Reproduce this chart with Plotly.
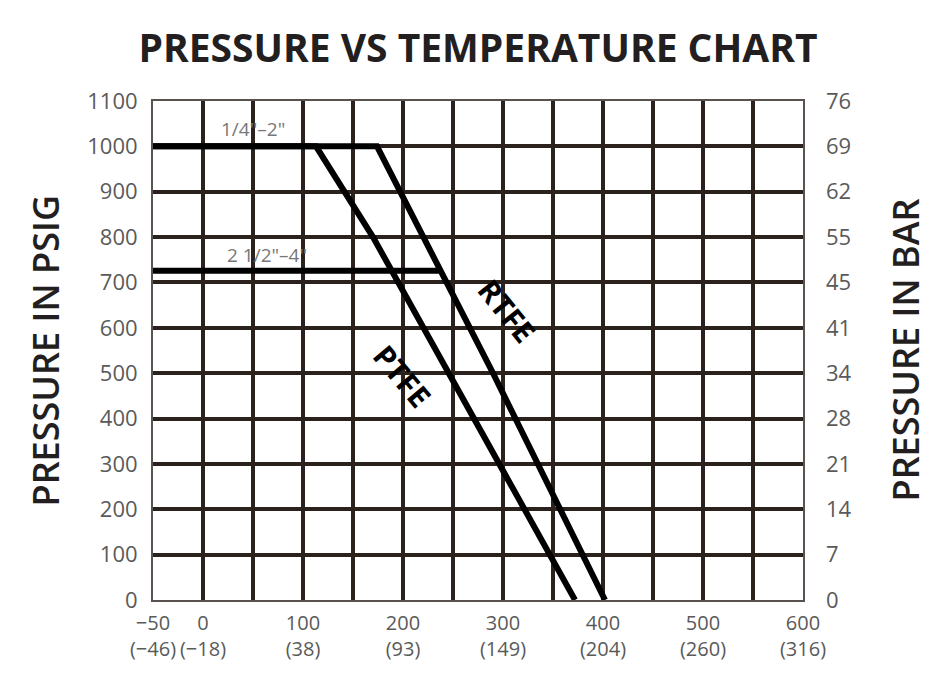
import plotly.graph_objects as go

# Temperature axis ticks (°F with °C in brackets)
temp_f_ticks = [-50, 0, 100, 200, 300, 400, 500, 600]
temp_c_ticks = ["−46", "−18", "38", "93", "149", "204", "260", "316"]

# Pressure axis ticks (psig) and bar equivalents
psi_ticks = [0, 100, 200, 300, 400, 500, 600, 700, 800, 900, 1000, 1100]
bar_ticks = ["0", "7", "14", "21", "28", "34", "41", "45", "55", "62", "69", "76"]

# PTFE rating curve
ptfe_temp = [-50, 113, 170, 372]
ptfe_psi = [1000, 1000, 800, 0]

# RTFE rating curve
rtfe_temp = [-50, 174, 290, 402]
rtfe_psi = [1000, 1000, 500, 0]

# 2 1/2"-4" rating line
big_temp = [-50, 236]
big_psi = [726, 726]

GRID = "#2b221e"
TICK = "#5a5a5a"
DARK = "#231f20"
FONT = "Open Sans"

fig = go.Figure()
for xs, ys in [(ptfe_temp, ptfe_psi), (rtfe_temp, rtfe_psi), (big_temp, big_psi)]:
    fig.add_trace(go.Scatter(x=xs, y=ys, mode="lines",
                             line=dict(color="black", width=6), showlegend=False,
                             hoverinfo="skip"))
# invisible trace to anchor the bar axis
fig.add_trace(go.Scatter(x=[-50], y=[0], yaxis="y2", mode="markers",
                         marker=dict(opacity=0), showlegend=False, hoverinfo="skip"))

ticktext = [f"{f}<br>({c})".replace("-50", "−50") for f, c in zip(temp_f_ticks, temp_c_ticks)]

fig.update_layout(
    width=934, height=679,
    paper_bgcolor="white", plot_bgcolor="white",
    margin=dict(l=145, r=139, t=93, b=87, autoexpand=False),
    title=dict(text="<b>PRESSURE VS TEMPERATURE CHART</b>", x=0.5, xref="paper",
               y=1 - 40 / 679, yref="container", yanchor="middle", xanchor="center",
               font=dict(family=FONT, size=39, color=DARK)),
    xaxis=dict(range=[-50, 600], tickvals=temp_f_ticks, ticktext=ticktext,
               showgrid=True, gridcolor=GRID, gridwidth=3.5, zeroline=False,
               minor=dict(dtick=50, tick0=0, showgrid=True, gridcolor=GRID, gridwidth=3.5),
               showline=True, linecolor="#5a524e", linewidth=2, mirror=True,
               ticks="", ticklabelstandoff=4, tickangle=0,
               tickfont=dict(family=FONT, size=20, color=TICK)),
    yaxis=dict(range=[0, 1100], tickvals=psi_ticks, ticktext=[str(v) for v in psi_ticks],
               showgrid=True, gridcolor=GRID, gridwidth=3.5, zeroline=False,
               showline=True, linecolor="#5a524e", linewidth=2, mirror=True,
               ticks="", ticklabelstandoff=9,
               tickfont=dict(family=FONT, size=22, color=TICK)),
    yaxis2=dict(range=[0, 1100], overlaying="y", side="right", tickvals=psi_ticks,
                ticktext=bar_ticks, showgrid=False, zeroline=False, ticklabelstandoff=22,
                tickfont=dict(family=FONT, size=22, color=TICK)),
    annotations=[
        dict(text="PRESSURE IN PSIG", xref="paper", yref="paper", x=0, y=0.5,
             xshift=-108, textangle=-90, showarrow=False, xanchor="center", yanchor="middle",
             font=dict(family=FONT, size=36, color=DARK, weight=600)),
        dict(text="PRESSURE IN BAR", xref="paper", yref="paper", x=1, y=0.5,
             xshift=102, textangle=-90, showarrow=False, xanchor="center", yanchor="middle",
             font=dict(family=FONT, size=36, color=DARK, weight=600)),
        dict(text="1/4\"–2\"", x=50, y=1038, showarrow=False,
             font=dict(family=FONT, size=19, color="#777")),
        dict(text="2 1/2\"–4\"", x=64, y=761, showarrow=False,
             font=dict(family=FONT, size=19, color="#777")),
        dict(text="<b>RTFE</b>", x=304, y=638, showarrow=False, textangle=51,
             font=dict(family=FONT, size=30, color="black")),
        dict(text="<b>PTFE</b>", x=199, y=495, showarrow=False, textangle=50,
             font=dict(family=FONT, size=30, color="black")),
    ],
)

fig.write_html("out.html")
